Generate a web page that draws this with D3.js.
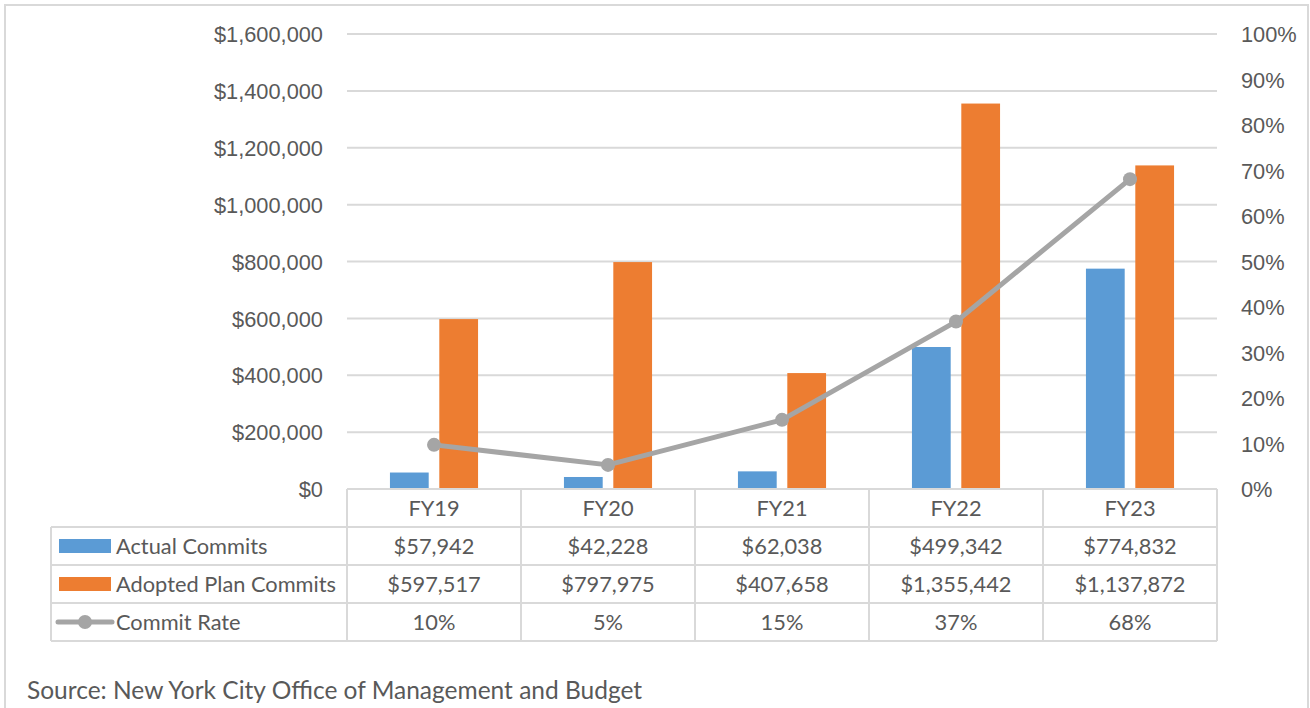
<!DOCTYPE html>
<html>
<head>
<meta charset="utf-8">
<script src="https://cdn.jsdelivr.net/npm/d3@7.9.0/dist/d3.min.js"></script>
<style>
  body { margin: 0; background: #fff; }
  svg { display: block; font-family: Lato, "Open Sans", sans-serif; }
</style>
</head>
<body>
<svg id="chart" width="1310" height="708"></svg>
<script>
// chart data
const years = ['FY19', 'FY20', 'FY21', 'FY22', 'FY23'];
const actual = [57942, 42228, 62038, 499342, 774832];
const adopted = [597517, 797975, 407658, 1355442, 1137872];
const rate = [0.097, 0.053, 0.152, 0.368, 0.681];
const rateLabels = ['10%', '5%', '15%', '37%', '68%'];
const seriesNames = ['Actual Commits', 'Adopted Plan Commits', 'Commit Rate'];
const colors = ['#5b9bd5', '#ed7d31', '#a5a5a5'];

const svg = d3.select('#chart');
const textColor = '#595959';
const gridColor = '#d9d9d9';
const fontSize = '21.8px';

// outer frame
svg.append('rect').attr('x', 5).attr('y', 5).attr('width', 1303).attr('height', 710)
  .attr('fill', 'none').attr('stroke', gridColor).attr('stroke-width', 2);

const plotL = 347, plotR = 1217, plotT = 34, plotB = 489;

let x = d3.scaleBand().domain(years).range([plotL, plotR]);
let xInner = d3.scaleBand().domain([0, 1]).range([0, x.bandwidth()]).paddingInner(0.215).paddingOuter(0.87);
let y = d3.scaleLinear().domain([0, 1600000]).range([plotB, plotT]);
let y2 = d3.scaleLinear().domain([0, 1]).range([plotB, plotT]);

// gridlines + left axis
let yAxis = d3.axisLeft(y).tickValues(d3.range(0, 1600001, 200000))
  .tickFormat((d) => '$' + d3.format(',')(d)).tickSize(0).tickPadding(24);
let gy = svg.append('g').attr('transform', `translate(${plotL},0)`).call(yAxis);
gy.select('.domain').remove();
gy.selectAll('text').attr('fill', textColor).style('font-size', fontSize).attr('dy', '0.35em');

svg.append('g').selectAll('line').data(y.ticks(8).filter((d) => d > 0)).join('line')
  .attr('x1', plotL).attr('x2', plotR)
  .attr('y1', (d) => y(d)).attr('y2', (d) => y(d))
  .attr('stroke', gridColor).attr('stroke-width', 2);

// right axis
let y2Axis = d3.axisRight(y2).tickValues(d3.range(0, 1.0001, 0.1))
  .tickFormat(d3.format('.0%')).tickSize(0).tickPadding(24);
let gy2 = svg.append('g').attr('transform', `translate(${plotR},0)`).call(y2Axis);
gy2.select('.domain').remove();
gy2.selectAll('text').attr('fill', textColor).style('font-size', fontSize).attr('dy', '0.35em');

// bars
[actual, adopted].forEach((vals, s) => {
  svg.append('g').selectAll('rect').data(vals).join('rect')
    .attr('x', (d, i) => x(years[i]) + xInner(s))
    .attr('width', xInner.bandwidth())
    .attr('y', (d) => y(d))
    .attr('height', (d) => plotB - y(d))
    .attr('fill', colors[s]);
});

// commit rate line
let line = d3.line().x((d, i) => x(years[i]) + x.bandwidth() / 2).y((d) => y2(d));
svg.append('path').datum(rate).attr('d', line)
  .attr('fill', 'none').attr('stroke', colors[2]).attr('stroke-width', 5).attr('stroke-linejoin', 'round');
svg.append('g').selectAll('circle').data(rate).join('circle')
  .attr('cx', (d, i) => x(years[i]) + x.bandwidth() / 2).attr('cy', (d) => y2(d))
  .attr('r', 7).attr('fill', colors[2]);

// data table
const rowH = 38, tableLeft = 51;
const table = svg.append('g');
const tableRows = [
  actual.map((d) => '$' + d3.format(',')(d)),
  adopted.map((d) => '$' + d3.format(',')(d)),
  rateLabels
];

// horizontal lines
table.append('line').attr('x1', plotL).attr('x2', plotR).attr('y1', plotB).attr('y2', plotB)
  .attr('stroke', gridColor).attr('stroke-width', 2);
d3.range(1, 5).forEach((r) => {
  table.append('line').attr('x1', tableLeft).attr('x2', plotR)
    .attr('y1', plotB + r * rowH).attr('y2', plotB + r * rowH)
    .attr('stroke', gridColor).attr('stroke-width', 2);
});
// vertical lines
table.append('line').attr('x1', tableLeft).attr('x2', tableLeft)
  .attr('y1', plotB + rowH).attr('y2', plotB + 4 * rowH)
  .attr('stroke', gridColor).attr('stroke-width', 2);
d3.range(0, years.length + 1).forEach((i) => {
  let xx = plotL + i * x.bandwidth();
  table.append('line').attr('x1', xx).attr('x2', xx)
    .attr('y1', plotB).attr('y2', plotB + 4 * rowH)
    .attr('stroke', gridColor).attr('stroke-width', 2);
});

// header
table.selectAll('.hdr').data(years).join('text').attr('class', 'hdr')
  .attr('x', (d) => x(d) + x.bandwidth() / 2).attr('y', plotB + rowH / 2)
  .attr('dy', '0.35em').attr('text-anchor', 'middle')
  .attr('fill', textColor).style('font-size', fontSize).text((d) => d);

// rows
tableRows.forEach((vals, r) => {
  let cy = plotB + (r + 1) * rowH + rowH / 2;
  table.append('g').selectAll('text').data(vals).join('text')
    .attr('x', (d, i) => x(years[i]) + x.bandwidth() / 2).attr('y', cy)
    .attr('dy', '0.35em').attr('text-anchor', 'middle')
    .attr('fill', textColor).style('font-size', fontSize).text((d) => d);
  table.append('text').attr('x', 116).attr('y', cy).attr('dy', '0.35em')
    .attr('fill', textColor).style('font-size', fontSize).text(seriesNames[r]);
  if (r < 2) {
    table.append('rect').attr('x', 59).attr('y', cy - 7).attr('width', 52).attr('height', 14)
      .attr('fill', colors[r]);
  } else {
    table.append('line').attr('x1', 58).attr('x2', 112).attr('y1', cy).attr('y2', cy)
      .attr('stroke', colors[2]).attr('stroke-width', 5).attr('stroke-linecap', 'round');
    table.append('circle').attr('cx', 85).attr('cy', cy).attr('r', 7).attr('fill', colors[2]);
  }
});

// source
svg.append('text').attr('x', 27).attr('y', 690).attr('dy', '0.35em')
  .attr('fill', textColor).style('font-size', '24.5px')
  .text('Source: New York City Office of Management and Budget');
</script>
</body>
</html>
